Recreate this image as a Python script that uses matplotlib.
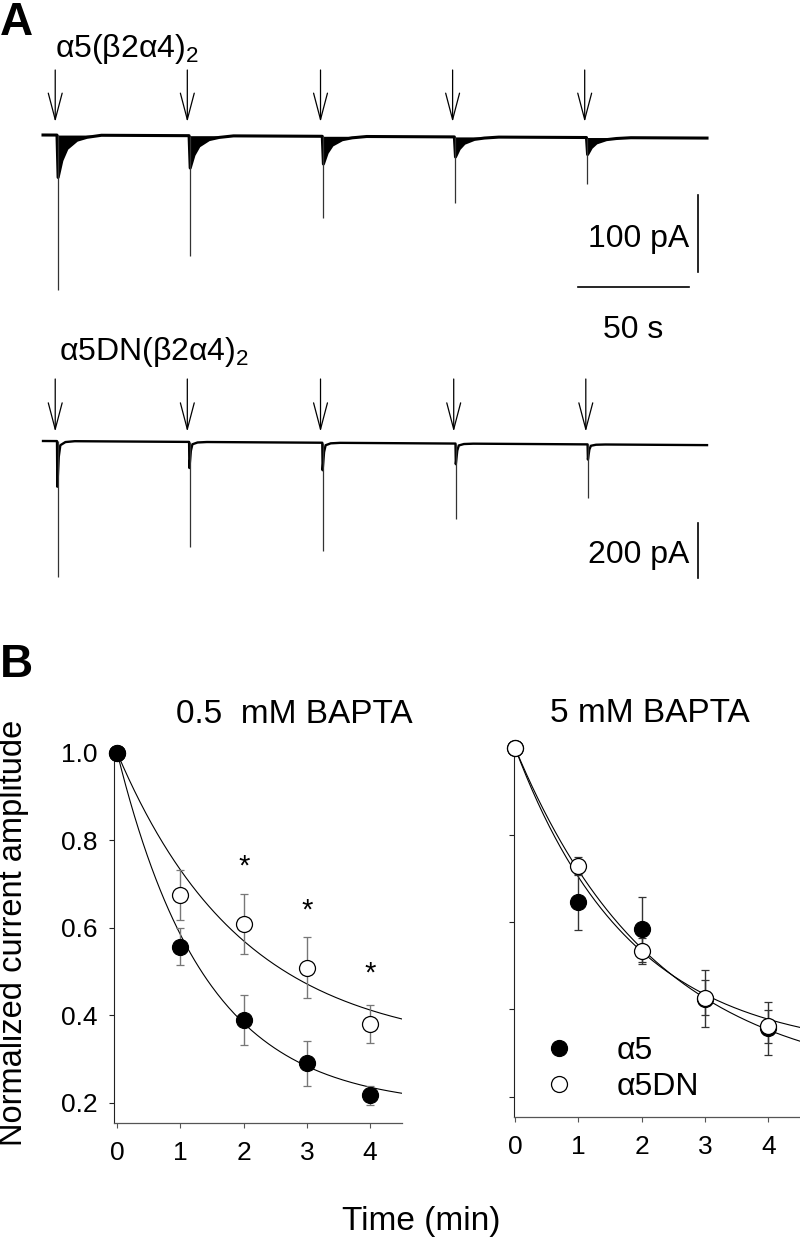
import numpy as np
import matplotlib
matplotlib.use("Agg")
import matplotlib.pyplot as plt

plt.rcParams['font.family'] = ['Liberation Sans', 'DejaVu Sans']
plt.rcParams['mathtext.fontset'] = 'custom'
plt.rcParams['mathtext.rm'] = 'Liberation Sans'
plt.rcParams['mathtext.default'] = 'regular'

W, H = 800, 1238

# ---- panel A: current traces (time in s, current in pA)
trace_span_s = (-6.3, 292.8)

top_pulse_s = [0, 59.5, 119.5, 179, 238.5]
top_peak_pa = [201, 156, 106, 86, 61]
top_band_pa = [55, 42, 36, 26, 22]
top_band_dt = [0.5, 2.2, 4.5, 9, 13.5, 20]
top_band_frac = [1.0, 0.6, 0.32, 0.12, 0.05, 0.0]
top_drift_pa = -4

bot_pulse_s = [0, 59.5, 119.5, 179.5, 239]
bot_peak_pa = [495, 382, 393, 275, 196]
bot_tail_pa = [166, 95, 100, 75, 55]
bot_tail_dt = [0.15, 0.8, 1.5, 3.8, 8]
bot_tail_frac = [1.0, 0.34, 0.09, 0.02, 0.0]
bot_drift_pa = -15

# ---- panel B: normalized amplitudes
time_min = [0, 1, 2, 3, 4]
low_a5 = [1.0, 0.557, 0.389, 0.29, 0.217]
low_a5_sem = [0, 0.043, 0.058, 0.051, 0.022]
low_dn = [1.0, 0.675, 0.609, 0.509, 0.38]
low_dn_sem = [0, 0.058, 0.068, 0.07, 0.043]
star_x = [2, 3, 4]
star_y = [0.76, 0.66, 0.515]

high_a5 = [1.0, 0.647, 0.584, 0.425, 0.357]
high_a5_sem = [0, 0.064, 0.075, 0.065, 0.061]
high_dn = [1.0, 0.729, 0.534, 0.427, 0.361]
high_dn_sem = [0, 0.02, 0.03, 0.04, 0.038]

# exponential fits: (plateau, rate per min)
fit_low_a5 = (0.19, 0.72)
fit_low_dn = (0.32, 0.5)
fit_high_a5 = (0.30, 0.55)
fit_high_dn = (0.225, 0.45)

fig = plt.figure(figsize=(W / 100, H / 100), dpi=100)


def px_axes(left, top, right, bottom):
    return fig.add_axes([left / W, 1 - bottom / H, (right - left) / W, (bottom - top) / H])


def ftext(x, y, s, **kw):
    return fig.text(x / W, 1 - y / H, s, **kw)


# layout of panel A: pixel scale of the traces
PX_PER_S = 2.22
T0_PX = 57


def trace_axes(top, bottom, base_py, px_per_pa):
    ax = px_axes(0, top, W, bottom)
    ax.set_xlim((0 - T0_PX) / PX_PER_S, (W - T0_PX) / PX_PER_S)
    ax.set_ylim((base_py - bottom) / px_per_pa, (base_py - top) / px_per_pa)
    ax.axis('off')
    return ax


def draw_trace(ax, pulses, peaks, depth, dts, fracs, drift, lw, fill):
    t0, t1 = trace_span_s
    t, y = [t0], [0.0]
    for p, d in zip(pulses, depth):
        t.append(p)
        y.append(0.0)
        t.extend(p + dt for dt in dts)
        y.extend(-d * f for f in fracs)
    t.append(t1)
    y.append(0.0)
    t = np.array(t)
    base = np.interp(t, [t0, t1], [0, drift])
    ax.plot(t, np.array(y) + base, color='black', lw=lw, solid_joinstyle='round')
    for p, pk, d in zip(pulses, peaks, depth):
        b = np.interp(p, [t0, t1], [0, drift])
        if fill:
            tt = p + np.array([0] + list(dts))
            env = np.array([0] + [-d * f for f in fracs]) + b
            ax.fill_between(tt, b, env, color='black', lw=0)
        ax.vlines(p + 0.3, b, b - pk, color='#333333', lw=0.9)


def draw_arrows(ax, pulses, tip_pa, tail_pa):
    for p in pulses:
        ax.annotate('', xy=(p - 0.8, tip_pa), xytext=(p - 0.8, tail_pa),
                    arrowprops=dict(arrowstyle='->,head_length=19,head_width=5',
                                    mutation_scale=1, lw=0.9, color='black',
                                    shrinkA=0, shrinkB=0))


# top trace
ax_t = trace_axes(0, 330, 135, 0.77)
draw_trace(ax_t, top_pulse_s, top_peak_pa, top_band_pa, top_band_dt, top_band_frac,
           top_drift_pa, 2.2, True)
draw_arrows(ax_t, top_pulse_s, 13 / 0.77, 65 / 0.77)
t_bar = (698 - T0_PX) / PX_PER_S
ax_t.plot([t_bar, t_bar], [-60 / 0.77, -60 / 0.77 - 100], color='black', lw=1.2, clip_on=False)
h0 = (578 - T0_PX) / PX_PER_S
ax_t.plot([h0, h0 + 50], [-152 / 0.77] * 2, color='black', lw=1.2, clip_on=False)

# bottom trace
ax_b = trace_axes(330, 640, 441, 0.275)
draw_trace(ax_b, bot_pulse_s, bot_peak_pa, bot_tail_pa, bot_tail_dt, bot_tail_frac,
           bot_drift_pa, 1.7, False)
draw_arrows(ax_b, bot_pulse_s, 9.3 / 0.275, 62 / 0.275)
ax_b.plot([t_bar, t_bar], [-82 / 0.275, -82 / 0.275 - 200], color='black', lw=1.2, clip_on=False)

ftext(0, 35, 'A', fontsize=33, fontweight='bold', va='baseline', ha='left')
ftext(55, 57, 'α5(β2α4)${}_2$', fontsize=23, va='baseline', ha='left')
ftext(59, 360, 'α5DN(β2α4)${}_2$', fontsize=23, va='baseline', ha='left')
ftext(689, 247, '100 pA', fontsize=23, va='baseline', ha='right')
ftext(633, 338, '50 s', fontsize=23, va='baseline', ha='center')
ftext(689, 563, '200 pA', fontsize=23, va='baseline', ha='right')

# ---- panel B
ftext(0, 677, 'B', fontsize=33, fontweight='bold', va='baseline', ha='left')
ax_l = px_axes(114.3, 753, 401.7, 1123)
ax_l.set_xlim(-0.047, 4.5)
ax_l.set_ylim(0.1536, 1.0)
ax_r = px_axes(514.4, 747.8, 800, 1117.3)
ax_r.set_xlim(-0.01, 4.5)
ax_r.set_ylim(0.1528, 1.0)

tt = np.linspace(0, 4.5, 200)


def fit_curve(ax, fit):
    a, k = fit
    ax.plot(tt, a + (1 - a) * np.exp(-k * tt), color='black', lw=0.8, zorder=2)


def points(ax, y, sem, face, ecolor):
    cont = ax.errorbar(time_min, y, yerr=sem, fmt='o', ms=11.5, mfc=face, mec='black',
                       mew=0.9, ecolor=ecolor, elinewidth=1, capsize=3, capthick=1,
                       zorder=3)
    for art in cont.lines[0:1] + tuple(cont.lines[1]) + tuple(cont.lines[2]):
        art.set_clip_on(False)
    return cont.lines[0]


fit_curve(ax_l, fit_low_a5)
fit_curve(ax_l, fit_low_dn)
points(ax_l, low_dn, low_dn_sem, 'white', '#777777')
points(ax_l, low_a5, low_a5_sem, 'black', '#777777')
for sx, sy in zip(star_x, star_y):
    ax_l.annotate('*', (sx, sy), xytext=(0, -12), textcoords='offset points',
                  ha='center', va='baseline', fontsize=21)

fit_curve(ax_r, fit_high_a5)
fit_curve(ax_r, fit_high_dn)
h_a5 = points(ax_r, high_a5, high_a5_sem, 'black', '#333333')
h_dn = points(ax_r, high_dn, high_dn_sem, 'white', '#333333')

ax_r.legend([h_a5, h_dn], ['α5', 'α5DN'], loc='center left',
            bbox_to_anchor=(543 / W, 1 - 1069 / H), bbox_transform=fig.transFigure,
            frameon=False, borderpad=0, borderaxespad=0, handlelength=1.0,
            handletextpad=1.3, labelspacing=0.2, fontsize=23)

for ax in (ax_l, ax_r):
    ax.spines['top'].set_visible(False)
    ax.spines['right'].set_visible(False)
    ax.spines['left'].set_linewidth(0.8)
    ax.spines['left'].set_color('#222222')
    ax.spines['bottom'].set_linewidth(0.9)
    ax.spines['bottom'].set_color('#555555')
    ax.set_xticks(time_min)
    ax.set_yticks([0.2, 0.4, 0.6, 0.8, 1.0])
    ax.tick_params(axis='x', direction='out', length=3.3, width=0.8, color='#555555',
                   labelsize=19, pad=9.5)
    ax.tick_params(axis='y', direction='out', length=3.3, width=0.8, color='#222222',
                   labelsize=19, pad=9)
ax_r.tick_params(axis='y', labelleft=False)

ftext(294.5, 722.7, '0.5  mM BAPTA', fontsize=24, ha='center', va='baseline')
ftext(650, 721.7, '5 mM BAPTA', fontsize=24, ha='center', va='baseline')
ftext(13.5, 933, 'Normalized current amplitude', fontsize=23.5, rotation=90,
      ha='center', va='center')
ftext(421, 1230, 'Time (min)', fontsize=24, ha='center', va='baseline')

fig.savefig('out.png', dpi=100)
